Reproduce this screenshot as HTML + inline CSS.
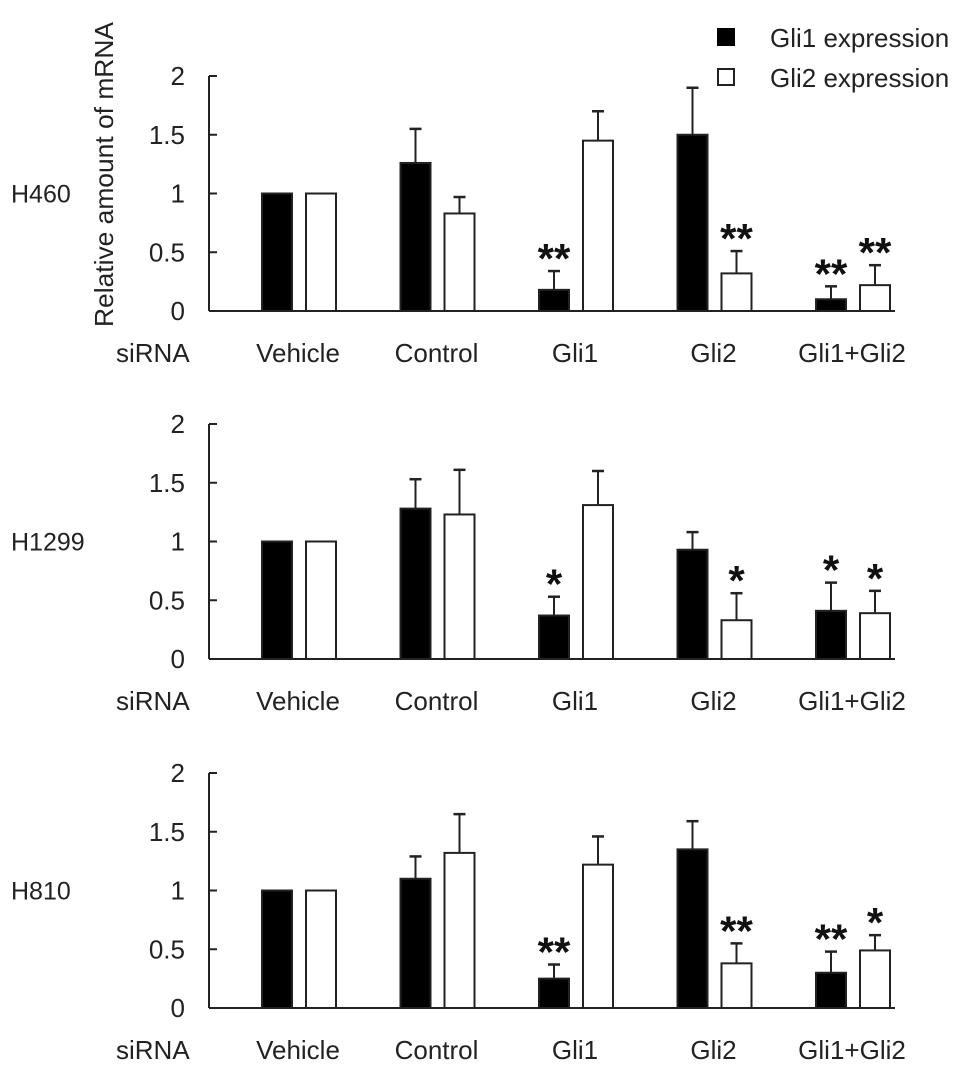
<!DOCTYPE html>
<html><head><meta charset="utf-8"><style>
body{margin:0;background:#fff;}
svg{display:block;font-family:"Liberation Sans",Arial,sans-serif;}
</style></head><body>
<svg id="chart" width="969" height="1074" viewBox="0 0 969 1074" xmlns="http://www.w3.org/2000/svg">
<g>
<rect x="717" y="28" width="18" height="18" fill="#000"/>
<text x="770" y="47" font-size="26" fill="#222">Gli1 expression</text>
<rect x="718" y="69" width="16" height="16" fill="#fff" stroke="#222" stroke-width="2"/>
<text x="770" y="87" font-size="26" fill="#222">Gli2 expression</text>
</g>
<text transform="translate(113,327) rotate(-90)" text-anchor="start" font-size="26" textLength="305" lengthAdjust="spacingAndGlyphs" fill="#222">Relative amount of mRNA</text>
<g id="panels"></g>
</svg>
<script>
const categories=["Vehicle","Control","Gli1","Gli2","Gli1+Gli2"];
const yTicks=[0,0.5,1,1.5,2];
const yTickLabels=["0","0.5","1","1.5","2"];
const panelNames=["H460","H1299","H810"];
const gli1Values=[[1.0,1.26,0.18,1.5,0.1],[1.0,1.28,0.37,0.93,0.41],[1.0,1.1,0.25,1.35,0.3]];
const gli1ErrTop=[[1.0,1.55,0.34,1.9,0.21],[1.0,1.53,0.53,1.08,0.65],[1.0,1.29,0.37,1.59,0.48]];
const gli2Values=[[1.0,0.83,1.45,0.32,0.22],[1.0,1.23,1.31,0.33,0.39],[1.0,1.32,1.22,0.38,0.49]];
const gli2ErrTop=[[1.0,0.97,1.7,0.51,0.39],[1.0,1.61,1.6,0.56,0.58],[1.0,1.65,1.46,0.55,0.62]];
const gli1Stars=[["","","**","","**"],["","","*","","*"],["","","**","","**"]];
const gli2Stars=[["","","","**","**"],["","","","*","*"],["","","","**","*"]];

const NS="http://www.w3.org/2000/svg";
const root=document.getElementById("panels");
const zeros=[311,659,1008];
const unit=117.5;
const axisX=209, axisEnd=895;
function mk(tag,attrs,parent){const e=document.createElementNS(NS,tag);for(const k in attrs)e.setAttribute(k,attrs[k]);parent.appendChild(e);return e;}
function xCenter(i){return 299+i*138.5;}
panelNames.forEach((pn,p)=>{
  const z=zeros[p];
  const y=v=>z-v*unit;
  const g=mk("g",{},root);
  
  
  const nm=mk("text",{x:11,y:y(1)+9,"font-size":25,fill:"#222"},g);nm.textContent=pn;
  
  
  const ya=mk("line",{x1:axisX,y1:y(2),x2:axisX,y2:z,stroke:"#222","stroke-width":2},g);
  
  
  yTicks.forEach((t,i)=>{
    const tk=mk("line",{x1:axisX,y1:y(t),x2:axisX+8,y2:y(t),stroke:"#222","stroke-width":2},g);
    
    
    const tl=mk("text",{x:185,y:y(t)+9,"font-size":26,"text-anchor":"end",fill:"#222"},g);tl.textContent=yTickLabels[i];
    
    
  });
  const sl=mk("text",{x:116,y:z+51,"font-size":26,fill:"#222"},g);sl.textContent="siRNA";
  
  
  categories.forEach((c,i)=>{
    const cx=xCenter(i);
    const series=[[gli1Values,gli1ErrTop,gli1Stars,cx-37,"#000"],[gli2Values,gli2ErrTop,gli2Stars,cx+7,"#fff"]];
    series.forEach((s,si)=>{
      const v=s[0][p][i],e=s[1][p][i],st=s[2][p][i],bx=s[3];
      const mid=bx+15;
      if(e>v){
        const el=mk("line",{x1:mid,y1:y(e),x2:mid,y2:y(v),stroke:"#222","stroke-width":2},g);
        
        
        const cp=mk("line",{x1:mid-6,y1:y(e),x2:mid+6,y2:y(e),stroke:"#222","stroke-width":2.5},g);
        
        
      }
      const r=mk("rect",{x:bx,y:y(v),width:30,height:v*unit,fill:s[4],stroke:"#222","stroke-width":2},g);
      
      
      if(st){
        const t=mk("text",{x:mid,y:y(e)+2,"font-size":42,"font-weight":"bold","text-anchor":"middle",fill:"#111"},g);
        t.textContent=st;
        
        
      }
    });
    const cl=mk("text",{x:cx-1,y:z+51,"font-size":26,"text-anchor":"middle",fill:"#222"},g);cl.textContent=c;
    
    
  });
  const xa=mk("line",{x1:axisX,y1:z,x2:axisEnd,y2:z,stroke:"#222","stroke-width":2},g);
  
  
});
</script>
</body></html>
